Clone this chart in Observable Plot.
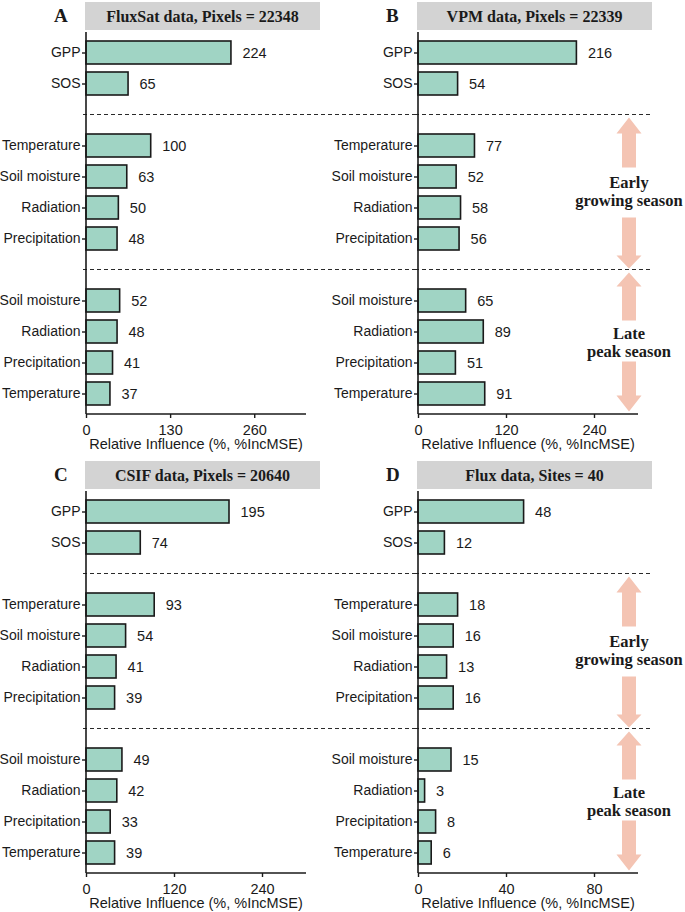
<!DOCTYPE html>
<html>
<head>
<meta charset="utf-8">
<script src="https://cdn.jsdelivr.net/npm/d3@7"></script>
<script src="https://cdn.jsdelivr.net/npm/@observablehq/plot@0.6"></script>
<style>
  html, body { margin: 0; padding: 0; background: #fff; }
  #wrap { position: relative; width: 685px; height: 912px; overflow: hidden; }
  .hdr { position: absolute; background: #d3d3d3; font: bold 16px "Liberation Serif", "Times New Roman", serif;
         color: #1a1a1a; text-align: center; height: 28px; line-height: 29px; width: 235px; }
  .let { position: absolute; font: bold 19px "Liberation Serif", "Times New Roman", serif; color: #1a1a1a; }
  .pl { position: absolute; }
</style>
</head>
<body>
<div id="wrap"></div>
<script>
// ---- data ----
const topCats   = ["GPP", "SOS"];
const earlyCats = ["Temperature", "Soil moisture", "Radiation", "Precipitation"];
const lateCats  = ["Soil moisture", "Radiation", "Precipitation", "Temperature"];

const fluxsatTop = [224, 65];
const fluxsatEarly = [100, 63, 50, 48];
const fluxsatLate = [52, 48, 41, 37];

const vpmTop = [216, 54];
const vpmEarly = [77, 52, 58, 56];
const vpmLate = [65, 89, 51, 91];

const csifTop = [195, 74];
const csifEarly = [93, 54, 41, 39];
const csifLate = [49, 42, 33, 39];

const fluxTop = [48, 12];
const fluxEarly = [18, 16, 13, 16];
const fluxLate = [15, 3, 8, 6];

const panelLetters = ["A", "B", "C", "D"];
const panelTitles = ["FluxSat data, Pixels = 22348", "VPM data, Pixels = 22339",
                     "CSIF data, Pixels = 20640", "Flux data, Sites = 40"];
const ticksA = [0, 130, 260];
const ticksB = [0, 120, 240];
const ticksC = [0, 120, 240];
const ticksD = [0, 40, 80];
const xMaxA = 340, xMaxB = 300, xMaxC = 300, xMaxD = 100;
const xTitle = "Relative Influence (%, %IncMSE)";
const seasonEarly = ["Early", "growing season"];
const seasonLate = ["Late", "peak season"];

// ---- build ----
const gapKeys = ["gap|1", "gap|2"];
const keyDomain = [
  ...topCats.map(c => "top|" + c), gapKeys[0],
  ...earlyCats.map(c => "early|" + c), gapKeys[1],
  ...lateCats.map(c => "late|" + c)
];
const realKeys = keyDomain.filter(k => !k.startsWith("gap"));

function rows(top, early, late) {
  return [
    ...topCats.map((c, i) => ({key: "top|" + c, value: top[i]})),
    ...earlyCats.map((c, i) => ({key: "early|" + c, value: early[i]})),
    ...lateCats.map((c, i) => ({key: "late|" + c, value: late[i]}))
  ];
}

const INK = "#1a1a1a";
const FILL = "#a0d4c4";
const ARROW = "#f4c4b3";
const SERIF = '"Liberation Serif", "Times New Roman", serif';
const SANS = '"Liberation Sans", Arial, sans-serif';

function deco(isRight) {
  return (index, scales, values, dims) => {
    const y = scales.y;
    const bw = y.bandwidth();
    const c = k => y(k) + bw / 2;
    const L = dims.marginLeft, R = dims.width - dims.marginRight;
    const T = dims.marginTop, B = dims.height - dims.marginBottom;
    const g = d3.create("svg:g");
    // dashed separators
    for (const k of gapKeys) {
      g.append("line").attr("x1", L - 3).attr("x2", isRight ? R + 15 : R + 112)
        .attr("y1", c(k)).attr("y2", c(k))
        .attr("stroke", "#2a2a2a").attr("stroke-width", 1.1).attr("stroke-dasharray", "4,3");
    }
    // axis lines
    g.append("line").attr("x1", L).attr("x2", L).attr("y1", T).attr("y2", B)
      .attr("stroke", INK).attr("stroke-width", 1.6);
    g.append("line").attr("x1", L).attr("x2", R).attr("y1", B).attr("y2", B)
      .attr("stroke", INK).attr("stroke-width", 1.6);
    // x axis title
    g.append("text").attr("x", (L + R) / 2).attr("y", B + 30).attr("dy", "0.35em")
      .attr("text-anchor", "middle").attr("font-family", SANS).attr("font-size", 14.5)
      .attr("fill", INK).text(xTitle);
    if (isRight) {
      const cx = R - 9;
      const up = (tip, base, end) => [[cx, tip], [cx + 12.5, base], [cx + 7, base], [cx + 7, end],
                                      [cx - 7, end], [cx - 7, base], [cx - 12.5, base]];
      const down = (top, base, tip) => [[cx - 7, top], [cx + 7, top], [cx + 7, base], [cx + 12.5, base],
                                        [cx, tip], [cx - 12.5, base], [cx - 7, base]];
      const c2 = c(gapKeys[0]), c7 = c(gapKeys[1]);
      const shapes = [
        up(c2 + 3, c2 + 19, c2 + 53), down(c2 + 103, c2 + 141, c2 + 154),
        up(c7 + 3, c7 + 17, c7 + 51), down(c7 + 92, c7 + 126, c7 + 142)
      ];
      for (const s of shapes) {
        g.append("polygon").attr("points", s.map(p => p.join(",")).join(" "))
          .attr("fill", ARROW);
      }
      const txt = [[seasonEarly[0], c2 + 68], [seasonEarly[1], c2 + 86],
                   [seasonLate[0], c7 + 64], [seasonLate[1], c7 + 82]];
      for (const [t, ty] of txt) {
        g.append("text").attr("x", cx).attr("y", ty).attr("dy", "0.35em")
          .attr("text-anchor", "middle").attr("font-family", SERIF)
          .attr("font-weight", "bold").attr("font-size", 16.5).attr("fill", INK).text(t);
      }
    }
    return g.node();
  };
}

function panel(data, ticks, xMax, isRight) {
  const width = isRight ? 355 : 342;
  const marginLeft = isRight ? 88 : 86;
  const marginRight = isRight ? 47 : 36;
  return Plot.plot({
    width, height: 426,
    marginLeft, marginRight, marginTop: 2, marginBottom: 42,
    style: {fontFamily: SANS, fontSize: "14px",
            color: INK, background: "transparent", overflow: "visible"},
    x: {domain: [0, xMax]},
    y: {type: "band", domain: keyDomain, paddingInner: 0.26, paddingOuter: 0.21},
    marks: [
      Plot.barX(data, {x: "value", y: "key", fill: FILL, stroke: INK, strokeWidth: 1.6}),
      Plot.text(data, {x: "value", y: "key", text: d => String(d.value), textAnchor: "start",
                       dx: 11, fontSize: 14.5, fill: INK}),
      Plot.axisY({ticks: realKeys, tickFormat: k => k.split("|")[1], tickSize: 4, tickPadding: 2,
                  label: null, fontSize: 14, strokeWidth: 1.4}),
      Plot.axisX({ticks, tickSize: 4, tickPadding: 6, fontSize: 14.5, strokeWidth: 1.4,
                  label: null}),
      deco(isRight)
    ]
  });
}

const wrap = document.getElementById("wrap");
const specs = [
  {data: rows(fluxsatTop, fluxsatEarly, fluxsatLate), ticks: ticksA, xMax: xMaxA, right: false, y0: 0},
  {data: rows(vpmTop, vpmEarly, vpmLate), ticks: ticksB, xMax: xMaxB, right: true, y0: 0},
  {data: rows(csifTop, csifEarly, csifLate), ticks: ticksC, xMax: xMaxC, right: false, y0: 459},
  {data: rows(fluxTop, fluxEarly, fluxLate), ticks: ticksD, xMax: xMaxD, right: true, y0: 459}
];
specs.forEach((s, i) => {
  const left = s.right ? 330 : 0;
  const axisX = s.right ? 418 : 86;
  const hdr = document.createElement("div");
  hdr.className = "hdr";
  hdr.style.left = (axisX - 1) + "px";
  hdr.style.top = (s.y0 + 2) + "px";
  hdr.textContent = panelTitles[i];
  wrap.appendChild(hdr);
  const let_ = document.createElement("div");
  let_.className = "let";
  let_.style.left = (axisX - 32) + "px";
  let_.style.top = (s.y0 + 5) + "px";
  let_.textContent = panelLetters[i];
  wrap.appendChild(let_);
  const holder = document.createElement("div");
  holder.className = "pl";
  holder.style.left = left + "px";
  holder.style.top = (s.y0 + 30) + "px";
  holder.appendChild(panel(s.data, s.ticks, s.xMax, s.right));
  wrap.appendChild(holder);
});
</script>
</body>
</html>
